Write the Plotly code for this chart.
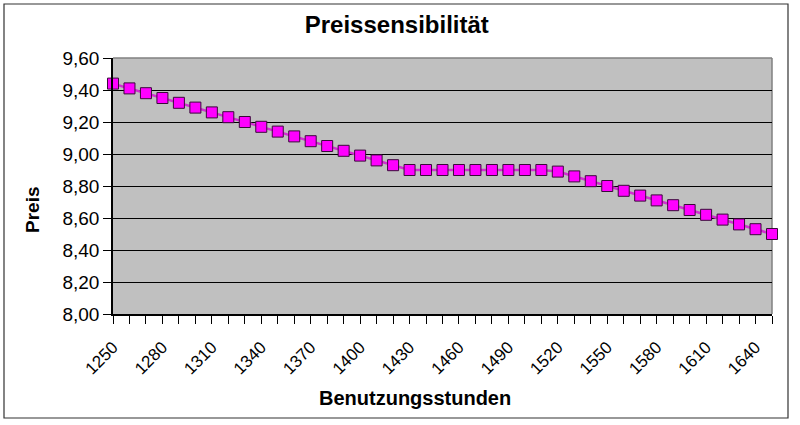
import plotly.graph_objects as go

stunden = [1250, 1260, 1270, 1280, 1290, 1300, 1310, 1320, 1330, 1340,
           1350, 1360, 1370, 1380, 1390, 1400, 1410, 1420, 1430, 1440,
           1450, 1460, 1470, 1480, 1490, 1500, 1510, 1520, 1530, 1540,
           1550, 1560, 1570, 1580, 1590, 1600, 1610, 1620, 1630, 1640, 1650]
preis = [9.44, 9.41, 9.38, 9.35, 9.32, 9.29, 9.26, 9.23, 9.20, 9.17,
         9.14, 9.11, 9.08, 9.05, 9.02, 8.99, 8.96, 8.93, 8.90, 8.90,
         8.90, 8.90, 8.90, 8.90, 8.90, 8.90, 8.90, 8.89, 8.86, 8.83,
         8.80, 8.77, 8.74, 8.71, 8.68, 8.65, 8.62, 8.59, 8.56, 8.53, 8.50]
x_ticks = [1250, 1280, 1310, 1340, 1370, 1400, 1430, 1460, 1490, 1520, 1550, 1580, 1610, 1640]
y_ticks = [8.0, 8.2, 8.4, 8.6, 8.8, 9.0, 9.2, 9.4, 9.6]

FONT = "Liberation Sans, Arial, sans-serif"

fig = go.Figure()
fig.add_trace(go.Scatter(
    x=stunden, y=preis, mode="lines+markers",
    line=dict(color="#D22FD2", width=2.5),
    marker=dict(symbol="square", size=11, color="#FF00FF",
                line=dict(color="#3A0A3A", width=1)),
    cliponaxis=False, showlegend=False,
))

fig.update_layout(
    width=800, height=425,
    margin=dict(l=113, r=28, t=58, b=111, autoexpand=False),
    paper_bgcolor="white", plot_bgcolor="#C0C0C0",
    separators=",.",
    font=dict(family=FONT, color="black"),
    title=dict(text="<b>Preissensibilität</b>", font=dict(size=24, family=FONT),
               x=0.496, xanchor="center", xref="container",
               y=1 - 25 / 425, yanchor="middle", yref="container"),
    xaxis=dict(range=[1250, 1650], tickvals=x_ticks, ticktext=[str(v) for v in x_ticks],
               tickangle=-45, ticks="outside", ticklen=8, tickcolor="black",
               ticklabelstandoff=7,
               tickfont=dict(size=17), showgrid=False, zeroline=False,
               showline=True, linecolor="black", linewidth=1.5,
               minor=dict(dtick=10, tick0=1250, ticks="outside", ticklen=8, tickcolor="black")),
    yaxis=dict(range=[8.0, 9.6], tickvals=y_ticks, tickformat=".2f",
               ticks="outside", ticklen=8, tickcolor="black",
               tickfont=dict(size=19), showgrid=True, gridcolor="black", gridwidth=1,
               zeroline=False, showline=True, linecolor="black", linewidth=1.5),
    shapes=[
        dict(type="line", xref="paper", yref="paper", x0=0, x1=1, y0=1, y1=1,
             line=dict(color="#808080", width=1.5), layer="above"),
        dict(type="line", xref="paper", yref="paper", x0=1, x1=1, y0=0, y1=1,
             line=dict(color="#808080", width=1.5), layer="below"),
        dict(type="rect", xref="paper", yref="paper",
             x0=(4 - 113) / 659, x1=(788 - 113) / 659,
             y0=(314 - 418) / 256, y1=(314 - 4) / 256,
             line=dict(color="#333333", width=1.2), layer="below"),
    ],
    annotations=[
        dict(text="<b>Benutzungsstunden</b>", xref="paper", yref="paper",
             x=(415 - 113) / 659, y=(314 - 398) / 256, showarrow=False,
             xanchor="center", yanchor="middle", font=dict(size=20, family=FONT)),
        dict(text="<b>Preis</b>", xref="paper", yref="paper",
             x=(32 - 113) / 659, y=(314 - 210) / 256, showarrow=False, textangle=-90,
             xanchor="center", yanchor="middle", font=dict(size=19, family=FONT)),
    ],
)

fig.write_html("out.html", config={"displayModeBar": False},
               post_script="document.body.style.margin='0px';")
